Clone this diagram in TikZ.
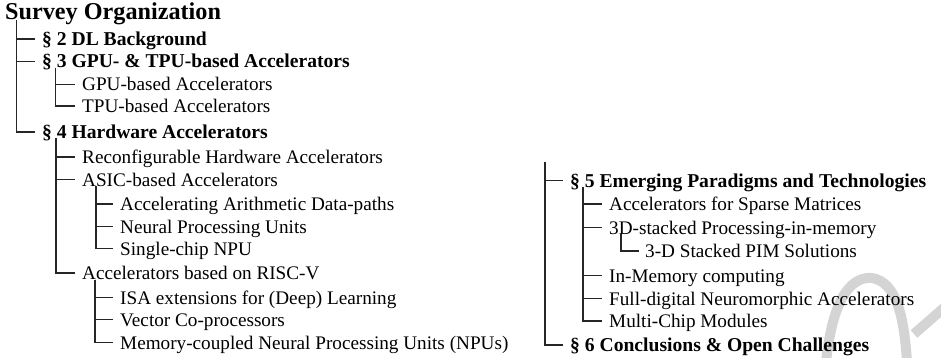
\documentclass[tikz,border=0pt]{standalone}
\usepackage{fontspec}
\setmainfont{Liberation Serif}
\begin{document}
\begin{tikzpicture}[x=1pt,y=-1pt,
  lbl/.style={anchor=west, inner sep=0pt, text height=13pt, text depth=0pt, font=\fontsize{19.2}{22}\selectfont},
  sec/.style={lbl, font=\fontsize{19.6}{22}\selectfont\bfseries},
  ttl/.style={anchor=base west, inner sep=0pt, font=\fontsize{24.2}{26}\selectfont\bfseries},
  conn/.style={draw=black!85, line width=1.1pt},
  wm/.style={draw=black!17, line width=10pt, line cap=butt}]
\useasboundingbox (0,0) rectangle (941,358);
% faint watermark fragment
\draw[wm] (826,362) .. controls (832,305) and (848,276) .. (872,278) .. controls (896,282) and (904,315) .. (907,362);
\draw[wm] (914,334) -- (946,306);
% left column
\node[ttl] (root) at (5,20) {Survey Organization};
\node[sec] (s2) at (42,39) {§ 2 DL Background};
\node[sec] (s3) at (42,61.5) {§ 3 GPU- \& TPU-based Accelerators};
\node[lbl] (gpu) at (82,84.5) {GPU-based Accelerators};
\node[lbl] (tpu) at (82,106) {TPU-based Accelerators};
\node[sec] (s4) at (42,132) {§ 4 Hardware Accelerators};
\node[lbl] (rec) at (82,157) {Reconfigurable Hardware Accelerators};
\node[lbl] (asic) at (82,179.5) {ASIC-based Accelerators};
\node[lbl] (aad) at (120,204) {Accelerating Arithmetic Data-paths};
\node[lbl] (npu) at (120,226.5) {Neural Processing Units};
\node[lbl] (single) at (120,248.5) {Single-chip NPU};
\node[lbl] (risc) at (82,273) {Accelerators based on RISC-V};
\node[lbl] (isa) at (120,297.5) {ISA extensions for (Deep) Learning};
\node[lbl] (vec) at (120,319.5) {Vector Co-processors};
\node[lbl] (mem) at (120,342.5) {Memory-coupled Neural Processing Units (NPUs)};
% right column
\coordinate (cont) at (545,162);
\node[sec] (s5) at (570,180.5) {§ 5 Emerging Paradigms and Technologies};
\node[lbl] (sparse) at (609,204) {Accelerators for Sparse Matrices};
\node[lbl] (pim) at (609,227.5) {3D-stacked Processing-in-memory};
\node[lbl] (pims) at (645,251) {3-D Stacked PIM Solutions};
\node[lbl] (imc) at (609,275.5) {In-Memory computing};
\node[lbl] (neuro) at (609,298.5) {Full-digital Neuromorphic Accelerators};
\node[lbl] (mcm) at (609,321) {Multi-Chip Modules};
\node[sec] (s6) at (570,345) {§ 6 Conclusions \& Open Challenges};
% connectors
\foreach \c in {s2,s3,s4}
  \draw[conn] ([xshift=11.5pt]root.base west) |- ([xshift=-7pt]\c.west);
\foreach \c in {gpu,tpu}
  \draw[conn] ([xshift=13.5pt]s3.base west) |- ([xshift=-7pt]\c.west);
\foreach \c in {rec,asic,risc}
  \draw[conn] ([xshift=14pt]s4.base west) |- ([xshift=-7pt]\c.west);
\foreach \c in {aad,npu,single}
  \draw[conn] ([xshift=14pt]asic.base west) |- ([xshift=-7pt]\c.west);
\foreach \c in {isa,vec,mem}
  \draw[conn] ([xshift=13pt]risc.base west) |- ([xshift=-7pt]\c.west);
\foreach \c in {s5,s6}
  \draw[conn] (cont) |- ([xshift=-7pt]\c.west);
\foreach \c in {sparse,pim,imc,neuro,mcm}
  \draw[conn] ([xshift=13pt]s5.base west) |- ([xshift=-7pt]\c.west);
\draw[conn] ([xshift=12pt]pim.base west) |- ([xshift=-6pt]pims.west);
\end{tikzpicture}
\end{document}
